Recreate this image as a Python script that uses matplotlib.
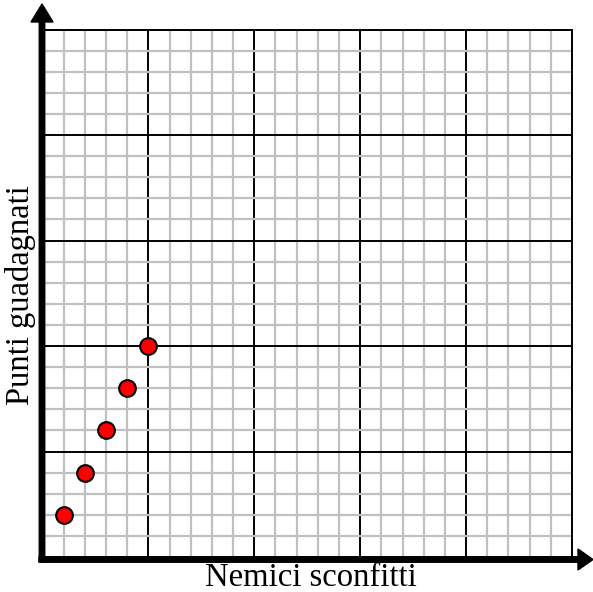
import matplotlib
matplotlib.use("Agg")
import matplotlib.pyplot as plt
from matplotlib.patches import FancyArrow
from matplotlib.ticker import MultipleLocator

# data
nemici = [1, 2, 3, 4, 5]
punti = [2, 4, 6, 8, 10]
x_label = "Nemici sconfitti"
y_label = "Punti guadagnati"

W, H = 593, 592
plt.rcParams['font.family'] = ['Liberation Serif', 'DejaVu Serif']

fig = plt.figure(figsize=(W / 100, H / 100), dpi=100)
ax = fig.add_axes([42.5 / W, (H - 557) / H, (572 - 42.5) / W, (557 - 29.5) / H])

ax.set_xlim(0, 25)
ax.set_ylim(0, 25)
ax.xaxis.set_major_locator(MultipleLocator(5))
ax.yaxis.set_major_locator(MultipleLocator(5))
ax.xaxis.set_minor_locator(MultipleLocator(1))
ax.yaxis.set_minor_locator(MultipleLocator(1))
ax.grid(which='minor', color='#c0c0c0', lw=1.6)
ax.grid(which='major', color='black', lw=1.4)
ax.set_axisbelow(True)
ax.tick_params(which='both', length=0, labelbottom=False, labelleft=False)
for side in ['left', 'bottom']:
    ax.spines[side].set_visible(False)
for side in ['top', 'right']:
    ax.spines[side].set_color('black')
    ax.spines[side].set_linewidth(1.4)

ax.plot(nemici, punti, 'o', ms=12, mfc='#ff0000', mec='black', mew=1.5,
        clip_on=False, zorder=5)


def px(x, y):
    return x / W, (H - y) / H


# axis arrows in figure pixels
x0, y0 = px(42, 562)
x1, y1 = px(42, 4)
fig.add_artist(FancyArrow(x0, y0, 0, y1 - y0, width=5.5 / W, head_width=22 / W,
                          head_length=18 / H, length_includes_head=True,
                          color='black', transform=fig.transFigure))
x0, y0 = px(39, 559.5)
x1, y1 = px(593, 559.5)
fig.add_artist(FancyArrow(x0, y0, x1 - x0, 0, width=5.5 / H, head_width=21 / H,
                          head_length=15 / W, length_includes_head=True,
                          color='black', transform=fig.transFigure))

fig.text(*px(311, 578), x_label, ha='center', va='center', fontsize=23.5)
fig.text(*px(21, 295), y_label, ha='center', va='center', fontsize=23.5,
         rotation=90)

plt.savefig('out.png', dpi=100)
